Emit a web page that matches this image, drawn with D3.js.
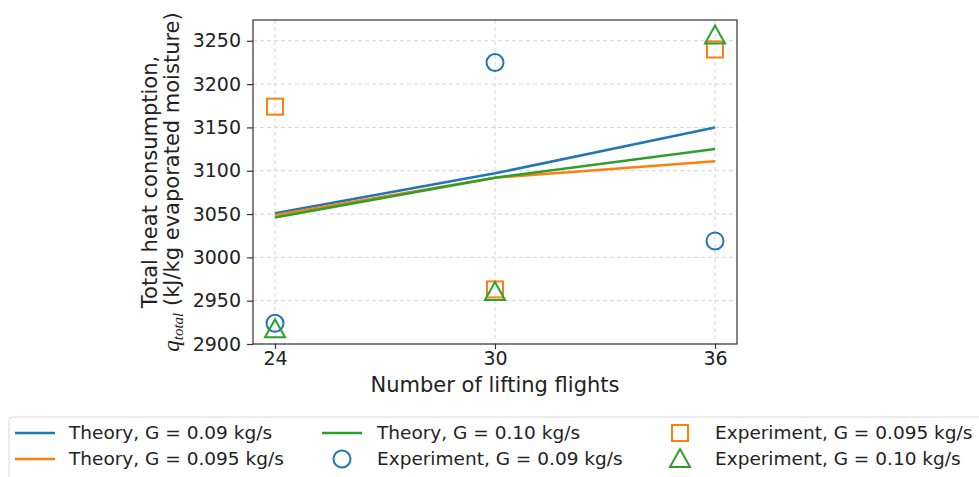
<!DOCTYPE html>
<html>
<head>
<meta charset="utf-8">
<script src="https://cdn.jsdelivr.net/npm/d3@7"></script>
<style>
  body { margin: 0; background: #fff; }
  svg { display: block; font-family: "DejaVu Sans", sans-serif; }
</style>
</head>
<body>
<svg id="chart" width="979" height="477"></svg>
<script>
// chart values
let flights = [24, 30, 36];
let theory09 = [3051, 3097, 3150];
let theory095 = [3049, 3092, 3111];
let theory10 = [3046, 3092, 3125];
let exp09 = [2924, 3225, 3019];
let exp095 = [3174, 2963, 3240];
let exp10 = [2917, 2960, 3256];
let yTicks = [2900, 2950, 3000, 3050, 3100, 3150, 3200, 3250];

let blue = "#1f77b4", orange = "#ff7f0e", green = "#2ca02c";

let series = [
  {label: "Theory, G = 0.09 kg/s", values: theory09, color: blue, type: "line"},
  {label: "Theory, G = 0.095 kg/s", values: theory095, color: orange, type: "line"},
  {label: "Theory, G = 0.10 kg/s", values: theory10, color: green, type: "line"},
  {label: "Experiment, G = 0.09 kg/s", values: exp09, color: blue, type: "circle"},
  {label: "Experiment, G = 0.095 kg/s", values: exp095, color: orange, type: "square"},
  {label: "Experiment, G = 0.10 kg/s", values: exp10, color: green, type: "triangle"}
];

let svg = d3.select("#chart");
let plot = {left: 253, right: 737, top: 20, bottom: 344};

let x = d3.scaleLinear().domain([23.4, 36.6]).range([plot.left, plot.right]);
let y = d3.scaleLinear().domain([2900, 3274]).range([plot.bottom, plot.top]);

// grid
let grid = svg.append("g").attr("stroke", "#d0d0d0").attr("stroke-width", 0.9)
  .attr("stroke-dasharray", "4,3");
grid.selectAll(".gx").data(flights).enter().append("line")
  .attr("x1", d => x(d)).attr("x2", d => x(d))
  .attr("y1", plot.top).attr("y2", plot.bottom);
grid.selectAll(".gy").data(yTicks).enter().append("line")
  .attr("x1", plot.left).attr("x2", plot.right)
  .attr("y1", d => y(d)).attr("y2", d => y(d));

function marker(sel, type, color) {
  if (type === "circle") {
    sel.append("circle").attr("r", 8.5);
  } else if (type === "square") {
    sel.append("rect").attr("x", -8).attr("y", -8).attr("width", 16).attr("height", 16);
  } else if (type === "triangle") {
    sel.append("path").attr("d", "M0,-10L10,8L-10,8Z");
  }
  sel.selectAll("*").attr("fill", "none").attr("stroke", color).attr("stroke-width", 2);
}

let line = d3.line().x((d, i) => x(flights[i])).y(d => y(d));

series.filter(s => s.type === "line").forEach(s => {
  svg.append("path").datum(s.values)
    .attr("d", line)
    .attr("fill", "none")
    .attr("stroke", s.color)
    .attr("stroke-width", 2.6);
});

series.filter(s => s.type !== "line").forEach(s => {
  s.values.forEach((v, i) => {
    let g = svg.append("g").attr("transform", "translate(" + x(flights[i]) + "," + y(v) + ")");
    marker(g, s.type, s.color);
  });
});

// frame
svg.append("rect")
  .attr("x", plot.left).attr("y", plot.top)
  .attr("width", plot.right - plot.left).attr("height", plot.bottom - plot.top)
  .attr("fill", "none").attr("stroke", "#333").attr("stroke-width", 1.2);

// axes
let xAxis = d3.axisBottom(x).tickValues(flights).tickSize(5).tickSizeOuter(0).tickPadding(3)
  .tickFormat(d3.format("d"));
let yAxis = d3.axisLeft(y).tickValues(yTicks).tickSize(6).tickSizeOuter(0).tickPadding(6)
  .tickFormat(d3.format("d"));

let gx = svg.append("g").attr("transform", "translate(0," + plot.bottom + ")").call(xAxis);
let gy = svg.append("g").attr("transform", "translate(" + plot.left + ",0)").call(yAxis);
[gx, gy].forEach(g => {
  g.select(".domain").remove();
  g.selectAll("line").attr("stroke", "#333").attr("stroke-width", 1.2);
  g.selectAll("text").attr("font-size", 19).attr("fill", "#222")
    .attr("font-family", "DejaVu Sans");
});

svg.append("text")
  .attr("x", (plot.left + plot.right) / 2).attr("y", 392)
  .attr("text-anchor", "middle").attr("font-size", 21).attr("fill", "#222")
  .text("Number of lifting flights");

let cy = (plot.top + plot.bottom) / 2;
svg.append("text")
  .attr("transform", "translate(157," + cy + ") rotate(-90)")
  .attr("text-anchor", "middle").attr("font-size", 21).attr("fill", "#222")
  .text("Total heat consumption,");
let l2 = svg.append("text")
  .attr("transform", "translate(179," + cy + ") rotate(-90)")
  .attr("text-anchor", "middle").attr("font-size", 21).attr("fill", "#222");
l2.append("tspan").attr("font-family", "Liberation Serif").attr("font-style", "italic")
  .attr("font-size", 23).text("q");
l2.append("tspan").attr("font-family", "Liberation Serif").attr("font-style", "italic")
  .attr("font-size", 15).attr("dy", 4).text("total");
l2.append("tspan").attr("dy", -4).text(" (kJ/kg evaporated moisture)");

// legend
let legend = svg.append("g");
legend.append("rect")
  .attr("x", 9).attr("y", 417).attr("width", 990).attr("height", 90).attr("rx", 4)
  .attr("fill", "#fff").attr("stroke", "#d8d8d8").attr("stroke-width", 1);

let colX = [15, 322, 660];
let textX = [69, 377, 715];
let rowY = [433, 459];
series.forEach((s, i) => {
  let col = Math.floor(i / 2), row = i % 2;
  let item = legend.append("g");
  if (s.type === "line") {
    item.append("line")
      .attr("x1", colX[col]).attr("x2", colX[col] + 40)
      .attr("y1", rowY[row]).attr("y2", rowY[row])
      .attr("stroke", s.color).attr("stroke-width", 2.6);
  } else {
    let g = item.append("g").attr("transform", "translate(" + (textX[col] - 35) + "," + rowY[row] + ")");
    marker(g, s.type, s.color);
  }
  item.append("text")
    .attr("x", textX[col]).attr("y", rowY[row]).attr("dy", "0.35em")
    .attr("font-size", 18.5).attr("fill", "#222")
    .text(s.label);
});
</script>
</body>
</html>
